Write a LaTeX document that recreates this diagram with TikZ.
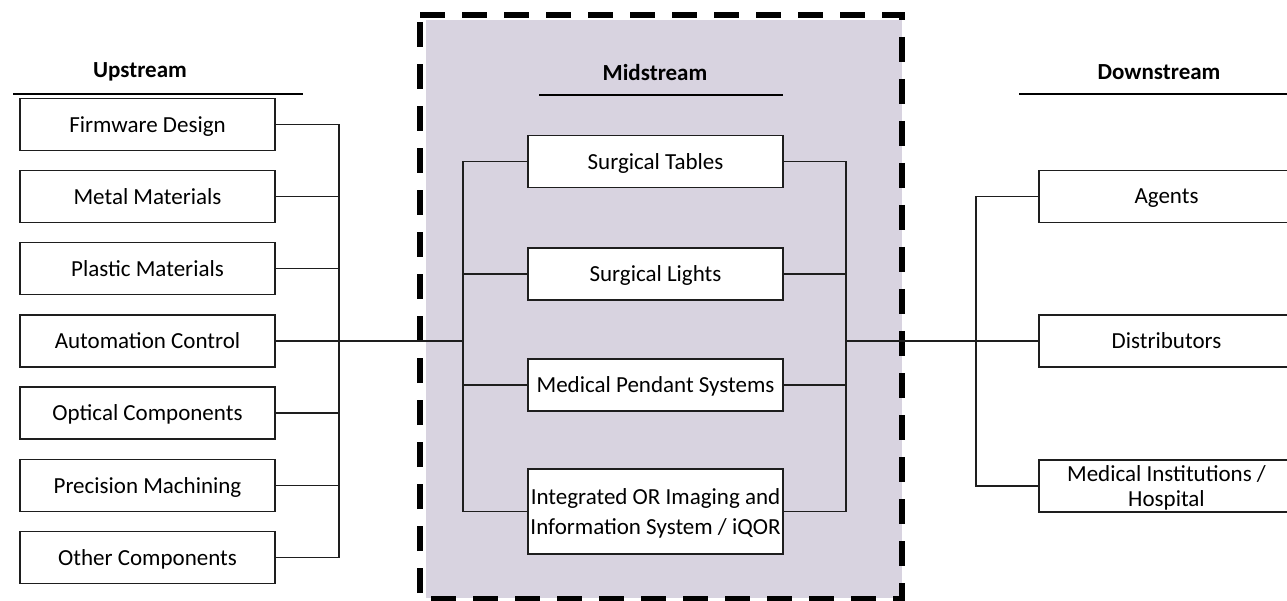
\documentclass[tikz,border=0pt]{standalone}
\usepackage{fontspec}
\setmainfont{Carlito}
\definecolor{midfill}{RGB}{216,211,224}
\definecolor{edge}{RGB}{30,30,30}
\begin{document}
\begin{tikzpicture}[x=1pt,y=-1pt,
  every node/.style={font=\fontsize{23}{27}\selectfont},
  itembox/.style={draw=edge, line width=1.4pt, fill=white, minimum width=255pt,
    minimum height=52pt, inner sep=0pt, text depth=0pt, align=center},
  heading/.style={font=\fontsize{23}{27}\selectfont\bfseries},
  headrule/.style={line width=2pt},
  link/.style={draw=edge, line width=1.1pt},
  frame/.style={line width=5.5pt, dash pattern=on 25pt off 17pt}]
\useasboundingbox (0,0) rectangle (1287,601);
\clip (0,0) rectangle (1287,601);

% midstream panel
\fill[midfill] (426,20) rectangle (902,598);
\draw[frame] (420,15) -- (902,15) -- (902,599) -- (420,599) -- cycle;

% headings
\node[heading] (hup) at (140,72) {Upstream};
\draw[headrule] (13,94.5) -- (303,94.5);
\node[heading] (hmid) at (655,73) {Midstream};
\draw[headrule] (539,95) -- (783,95);
\node[heading] (hdown) at (1159,72) {Downstream};
\draw[headrule] (1019,94.5) -- (1290,94.5);

% upstream items
\node[itembox] (u1) at (147.5,124.5) {Firmware Design};
\node[itembox] (u2) at (147.5,196.5) {Metal Materials};
\node[itembox] (u3) at (147.5,268.5) {Plastic Materials};
\node[itembox] (u4) at (147.5,341) {Automation Control};
\node[itembox] (u5) at (147.5,413) {Optical Components};
\node[itembox] (u6) at (147.5,485.5) {Precision Machining};
\node[itembox] (u7) at (147.5,557.5) {Other Components};

% midstream items
\node[itembox] (m1) at (655.5,161.5) {Surgical Tables};
\node[itembox] (m2) at (655.5,274) {Surgical Lights};
\node[itembox] (m3) at (655.5,385) {Medical Pendant Systems};
\node[itembox, minimum height=85pt, font=\fontsize{23}{30}\selectfont] (m4) at (655.5,511.5)
  {Integrated OR Imaging and\\Information System / iQOR};

% downstream items
\node[itembox] (d1) at (1166.5,196.5) {Agents};
\node[itembox] (d2) at (1166.5,341) {Distributors};
\node[itembox, font=\fontsize{23}{25}\selectfont] (d3) at (1166.5,486)
  {Medical Institutions /\\Hospital};

% bus positions
\coordinate (ubus) at (339,341);
\coordinate (mleft) at (463,341);
\coordinate (mright) at (846,341);
\coordinate (dbus) at (976,341);

% upstream bus
\foreach \i in {1,...,7} {\draw[link] (u\i.east) -- (u\i.east -| ubus);}
\draw[link] (u1.east -| ubus) -- (u7.east -| ubus);
\draw[link] (u4.east) -- (mleft);

% midstream buses
\draw[link] (m1.west) -- (m1.west -| mleft) -- (m4.west -| mleft) -- (m4.west);
\draw[link] (m2.west) -- (m2.west -| mleft);
\draw[link] (m3.west) -- (m3.west -| mleft);
\draw[link] (m1.east) -- (m1.east -| mright) -- (m4.east -| mright) -- (m4.east);
\draw[link] (m2.east) -- (m2.east -| mright);
\draw[link] (m3.east) -- (m3.east -| mright);

% downstream bus
\draw[link] (mright) -- (d2.west);
\draw[link] (d1.west) -- (d1.west -| dbus) -- (d3.west -| dbus) -- (d3.west);
\end{tikzpicture}
\end{document}
